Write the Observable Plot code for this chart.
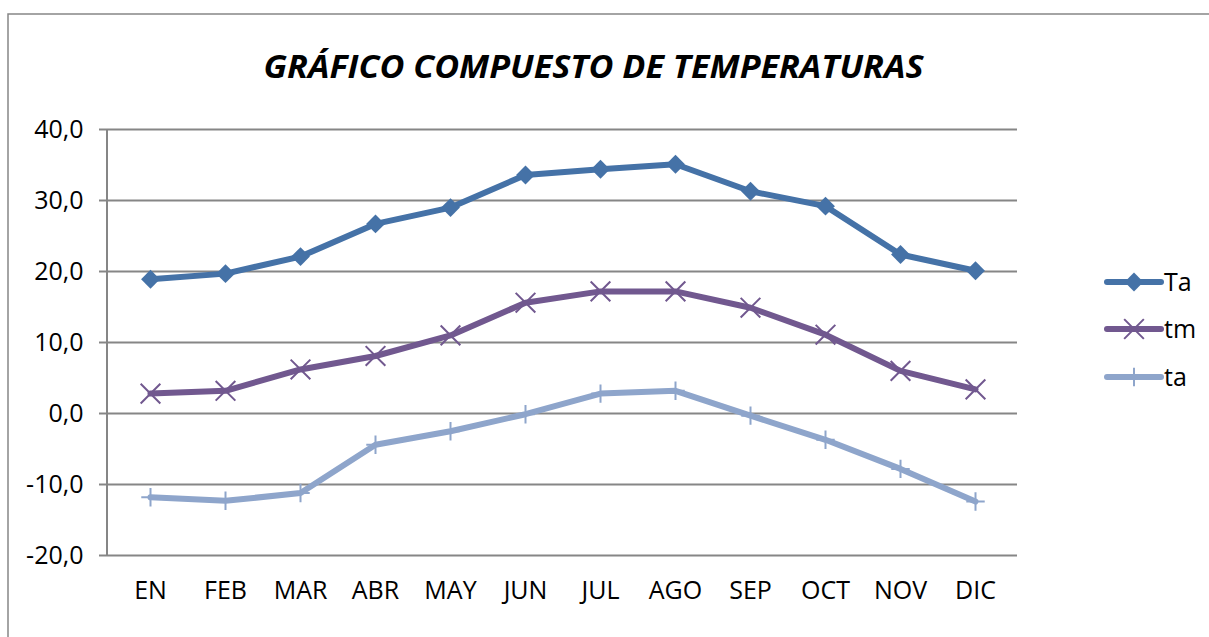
<!DOCTYPE html>
<html>
<head>
<meta charset="utf-8">
<script src="https://cdn.jsdelivr.net/npm/d3@7"></script>
<script src="https://cdn.jsdelivr.net/npm/@observablehq/plot@0.6"></script>
<style>
  html, body { margin: 0; padding: 0; background: #fff; overflow: hidden; }
  #wrap { position: relative; width: 1209px; height: 637px; overflow: hidden; font-family: "Open Sans", sans-serif; }
  #chart, #overlay { position: absolute; left: 0; top: 0; }
  #overlay { pointer-events: none; }
</style>
</head>
<body>
<div id="wrap">
  <div id="chart"></div>
  <svg id="overlay" width="1209" height="637"></svg>
</div>
<script>
const months = ["EN","FEB","MAR","ABR","MAY","JUN","JUL","AGO","SEP","OCT","NOV","DIC"];
const TaValues = [18.9, 19.7, 22.1, 26.7, 29.0, 33.6, 34.4, 35.1, 31.3, 29.2, 22.4, 20.1];
const tmValues = [2.8, 3.2, 6.2, 8.1, 11.0, 15.6, 17.2, 17.2, 14.9, 11.1, 6.0, 3.4];
const taValues = [-11.8, -12.3, -11.2, -4.4, -2.5, -0.1, 2.8, 3.2, -0.3, -3.7, -7.8, -12.4];
const yTicks = [-20, -10, 0, 10, 20, 30, 40];
const seriesNames = ["Ta", "tm", "ta"];
const titleText = "GRÁFICO COMPUESTO DE TEMPERATURAS";

const colors = { Ta: "#4572A7", tm: "#71588F", ta: "#8EA5CB" };
const grid = "#868686";
const fs = 25;

const toRows = (vals) => months.map((m, i) => ({ month: m, v: vals[i] }));
const TaData = toRows(TaValues);
const tmData = toRows(tmValues);
const taData = toRows(taValues);

const fmt = (d) => d.toFixed(1).replace(".", ",");

const leftLine = (index, scales, values, dims) => {
  return d3.create("svg:line")
    .attr("x1", dims.marginLeft).attr("x2", dims.marginLeft)
    .attr("y1", dims.marginTop).attr("y2", dims.height - dims.marginBottom)
    .attr("stroke", grid).attr("stroke-width", 2)
    .node();
};

const chart = Plot.plot({
  width: 1209,
  height: 637,
  marginTop: 129,
  marginBottom: 82,
  marginLeft: 107,
  marginRight: 192,
  style: { background: "transparent", color: "#000", fontFamily: "'Open Sans', sans-serif", fontSize: fs + "px" },
  x: { type: "point", domain: months, padding: 0.5, align: 0.5, label: null },
  y: { domain: [-20, 40], label: null },
  marks: [
    Plot.ruleY(yTicks, { stroke: grid, strokeWidth: 2 }),
    leftLine,
    Plot.axisY({ ticks: yTicks, tickSize: 8, tickPadding: 16, tickFormat: fmt, fontSize: fs, stroke: grid, strokeWidth: 2, label: null }),
    Plot.axisX({ tickSize: 0, tickPadding: 26, fontSize: fs, label: null }),
    Plot.line(TaData, { x: "month", y: "v", stroke: colors.Ta, strokeWidth: 6, strokeLinejoin: "round", strokeLinecap: "round" }),
    Plot.dot(TaData, { x: "month", y: "v", symbol: "diamond2", r: 8.5, fill: colors.Ta, stroke: null }),
    Plot.line(tmData, { x: "month", y: "v", stroke: colors.tm, strokeWidth: 6, strokeLinejoin: "round", strokeLinecap: "round" }),
    Plot.dot(tmData, { x: "month", y: "v", symbol: "times", r: 9, stroke: colors.tm, strokeWidth: 2, fill: null }),
    Plot.line(taData, { x: "month", y: "v", stroke: colors.ta, strokeWidth: 6, strokeLinejoin: "round", strokeLinecap: "round" }),
    Plot.dot(taData, { x: "month", y: "v", symbol: "plus", r: 6, stroke: colors.ta, strokeWidth: 2, fill: null })
  ]
});
document.getElementById("chart").appendChild(chart);

// overlay: border, title, legend
const ov = d3.select("#overlay");
ov.append("rect")
  .attr("x", 8).attr("y", 14).attr("width", 1400).attr("height", 800)
  .attr("fill", "none").attr("stroke", grid).attr("stroke-width", 1.5);

ov.append("text")
  .attr("x", 593.5).attr("y", 78)
  .attr("text-anchor", "middle")
  .attr("font-family", "'Open Sans', sans-serif")
  .attr("font-weight", 700).attr("font-style", "italic")
  .attr("font-size", 32)
  .attr("textLength", 660).attr("lengthAdjust", "spacingAndGlyphs")
  .text(titleText);

const legendY = [282, 329, 377];
const symbols = { Ta: d3.symbolDiamond2, tm: d3.symbolTimes, ta: d3.symbolPlus };
const symSizes = { Ta: Math.PI * 8.5 * 8.5, tm: Math.PI * 9 * 9, ta: Math.PI * 6 * 6 };
seriesNames.forEach((name, i) => {
  const g = ov.append("g").attr("transform", `translate(0,${legendY[i]})`);
  g.append("line").attr("x1", 1107).attr("x2", 1161).attr("y1", 0).attr("y2", 0)
    .attr("stroke", colors[name]).attr("stroke-width", 6).attr("stroke-linecap", "round");
  const p = g.append("path").attr("transform", "translate(1134,0)")
    .attr("d", d3.symbol(symbols[name], symSizes[name])());
  if (name === "Ta") p.attr("fill", colors[name]);
  else p.attr("fill", "none").attr("stroke", colors[name]).attr("stroke-width", 2);
  g.append("text").attr("x", 1164).attr("y", 0).attr("dy", "0.35em")
    .attr("font-family", "'Open Sans', sans-serif").attr("font-size", fs)
    .text(name);
});
</script>
</body>
</html>
